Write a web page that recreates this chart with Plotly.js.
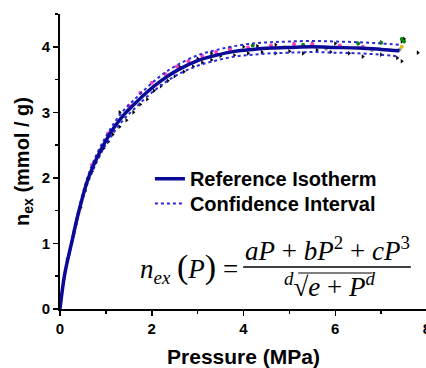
<!DOCTYPE html>
<html><head><meta charset="utf-8">
<script src="https://cdn.plot.ly/plotly-3.0.1.min.js"></script>
<style>html,body{margin:0;padding:0;overflow:hidden;background:#fff}</style>
</head><body><div id="chart" style="width:430px;height:368px"></div>
<script>
// Reference isotherm (Pressure in MPa, excess uptake in mmol/g)
const pressure = [0, 0.1, 0.25, 0.4, 0.6, 0.8, 1.0, 1.2, 1.4, 1.6, 1.9, 2.2, 2.55, 3.0, 3.4, 3.8, 4.2, 4.6, 5.0, 5.5, 6.0, 6.5, 7.0, 7.4];
const isotherm = [0, 0.52, 1.0, 1.46, 1.96, 2.3, 2.57, 2.79, 2.97, 3.11, 3.31, 3.48, 3.64, 3.79, 3.87, 3.93, 3.96, 3.98, 3.99, 4.0, 3.99, 3.98, 3.96, 3.94];
const ciUpper = [0, 0.54, 1.03, 1.50, 2.01, 2.36, 2.63, 2.86, 3.04, 3.18, 3.38, 3.56, 3.72, 3.87, 3.95, 4.01, 4.05, 4.07, 4.08, 4.09, 4.08, 4.07, 4.05, 4.03];
const ciLower = [0, 0.50, 0.97, 1.42, 1.91, 2.24, 2.51, 2.72, 2.90, 3.04, 3.24, 3.41, 3.57, 3.71, 3.79, 3.85, 3.88, 3.90, 3.91, 3.92, 3.91, 3.90, 3.88, 3.85];

// Measured data sets (scattered points)
const blackP = [0.05,0.15,0.3,0.45,0.55,0.7,0.85,0.95,1.05,1.15,1.3,1.45,1.6,1.75,1.9,2.05,2.2,2.35,2.5,2.7,2.9,3.1,3.3,3.5,3.8,4.1,4.4,4.7,5.0,5.3,5.6,5.9,6.3,6.6,7.0,7.35,7.45,7.8,
                1.3,2.3,2.6,3.0,3.3,3.7,4.0,4.3,4.7,5.1,5.5,6.0,6.5,7.0,7.45,7.5];
const blackN = [0.3,0.75,1.15,1.55,1.8,2.1,2.35,2.45,2.55,2.66,2.78,2.88,3.0,3.12,3.2,3.33,3.4,3.48,3.55,3.62,3.7,3.76,3.8,3.86,3.87,3.9,3.92,3.9,3.93,3.9,3.95,3.92,3.9,3.85,3.88,3.83,3.78,3.91,
                3.0,3.58,3.7,3.82,3.9,3.97,4.0,4.01,4.03,4.04,4.05,4.05,4.05,4.07,4.08,4.12];
const pinkP = [0.35,0.7,1.05,1.5,1.75,2.0,2.3,2.55,2.8,3.1,3.4,3.7,4.1,4.6,5.1,5.5,6.1,6.6];
const pinkN = [1.3,2.2,2.68,3.1,3.3,3.45,3.58,3.7,3.78,3.86,3.92,3.96,3.99,4.02,4.04,4.04,4.02,4.0];
const greenP = [7.45,7.5,6.5,7.0,3.7,4.2,5.3];
const greenN = [4.12,4.08,4.05,4.06,3.98,4.02,4.03];
const grayP = [5.8,6.8,7.4];
const grayN = [3.97,3.95,3.96];
const yellowP = [7.45,4.9];
const yellowN = [4.0,3.99];

const traces = [
  {x: blackP, y: blackN, mode: 'markers', type: 'scatter', showlegend: false,
   marker: {symbol: 'triangle-right', size: 4, color: '#000'}},
  {x: grayP, y: grayN, mode: 'markers', type: 'scatter', showlegend: false, marker: {size: 4, color: '#9a9a9a'}},
  {x: yellowP, y: yellowN, mode: 'markers', type: 'scatter', showlegend: false, marker: {size: 4, color: '#d8c000'}},
  {x: greenP, y: greenN, mode: 'markers', type: 'scatter', showlegend: false, marker: {size: 4, color: '#0a8a0a'}},
  {x: pinkP, y: pinkN, mode: 'markers', type: 'scatter', showlegend: false, marker: {size: 4, color: '#ff3fbf'}},
  {x: pressure, y: ciUpper, mode: 'lines', type: 'scatter', name: 'Confidence Interval', legend: 'legend2',
   line: {color: '#2a2ad8', width: 2, dash: '3px,3px', shape: 'spline'}},
  {x: pressure, y: ciLower, mode: 'lines', type: 'scatter', showlegend: false,
   line: {color: '#2a2ad8', width: 2, dash: '3px,3px', shape: 'spline'}},
  {x: pressure, y: isotherm, mode: 'lines', type: 'scatter', name: 'Reference Isotherm', legend: 'legend',
   line: {color: '#0a0a96', width: 3.5, shape: 'spline'}}
];

const sans = 'Liberation Sans, Arial, sans-serif';
const tickBold = {family: sans, size: 15, color: '#000', weight: 'bold'};
const titleBold = {family: sans, size: 20, color: '#000', weight: 'bold'};
const legendFont = {family: sans, size: 20, color: '#000', weight: 'bold'};
const serif = 'Liberation Serif, Times New Roman, serif';
const layout = {
  width: 430, height: 368,
  margin: {l: 60, r: 3, t: 14, b: 59},
  paper_bgcolor: '#fff', plot_bgcolor: '#fff',
  showlegend: true,
  legend: {x: 0.245, xanchor: 'left', y: 0.508, yanchor: 'top', bgcolor: 'rgba(0,0,0,0)', font: legendFont},
  legend2: {x: 0.245, xanchor: 'left', y: 0.424, yanchor: 'top', bgcolor: 'rgba(0,0,0,0)', font: legendFont},
  xaxis: {range: [0, 8], showline: true, linewidth: 2, linecolor: '#000', mirror: false,
          ticks: 'outside', ticklen: 5, tickwidth: 1.5, tickcolor: '#000', dtick: 2, tick0: 0,
          ticklabeloverflow: 'allow',
          minor: {dtick: 1, ticks: 'outside', ticklen: 3, tickwidth: 1.5, tickcolor: '#000'},
          showgrid: false, zeroline: false, tickfont: tickBold,
          title: {text: 'Pressure (MPa)', font: {family: sans, size: 21, color: '#000', weight: 'bold'}, standoff: 15}},
  yaxis: {range: [0, 4.5], showline: true, linewidth: 2, linecolor: '#000', mirror: false,
          ticks: 'outside', ticklen: 5, tickwidth: 1.5, tickcolor: '#000', dtick: 1, tick0: 0,
          minor: {dtick: 0.5, ticks: 'outside', ticklen: 3, tickwidth: 1.5, tickcolor: '#000'},
          showgrid: false, zeroline: false, tickfont: tickBold,
          title: {text: 'n<sub>ex</sub> (mmol / g)', font: titleBold, standoff: 7}},
  annotations: [
    {xref: 'paper', yref: 'paper', x: 0.351, y: 0.139, xanchor: 'center', yanchor: 'middle', showarrow: false,
     text: "<i>n</i><sub><i>ex</i></sub> <span style='font-size:34px'>(</span><i>P</i><span style='font-size:34px'>)</span> =",
     font: {family: serif, size: 27, color: '#000'}},
    {xref: 'paper', yref: 'paper', x: 0.728, y: 0.203, xanchor: 'center', yanchor: 'middle', showarrow: false,
     text: "<i>aP</i> + <i>bP</i><sup>2</sup> + <i>cP</i><sup>3</sup>",
     font: {family: serif, size: 27, color: '#000'}},
    {xref: 'paper', yref: 'paper', x: 0.736, y: 0.081, xanchor: 'center', yanchor: 'middle', showarrow: false,
     text: "<sup><i>d</i></sup>√<i>e</i> + <i>P</i><sup><i>d</i></sup>",
     font: {family: serif, size: 27, color: '#000'}}
  ],
  shapes: [
    {type: 'line', xref: 'paper', yref: 'paper', x0: 0.499, x1: 0.956, y0: 0.142, y1: 0.142, line: {color: '#000', width: 1.5}},
    {type: 'line', xref: 'paper', yref: 'paper', x0: 0.649, x1: 0.850, y0: 0.122, y1: 0.122, line: {color: '#000', width: 1}}
  ]
};
Plotly.newPlot('chart', traces, layout, {displayModeBar: false, staticPlot: true});
</script></body></html>
